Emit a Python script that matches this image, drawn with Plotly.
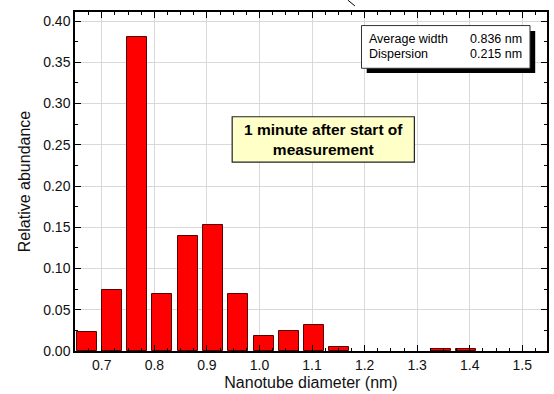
import plotly.graph_objects as go

# Data
diameters = [0.671, 0.719, 0.767, 0.815, 0.864, 0.912, 0.960, 1.008, 1.056, 1.104, 1.152, 1.345, 1.393]
abundance = [0.023, 0.074, 0.381, 0.069, 0.139, 0.153, 0.069, 0.018, 0.024, 0.032, 0.005, 0.002, 0.002]
x_ticks = [0.7, 0.8, 0.9, 1.0, 1.1, 1.2, 1.3, 1.4, 1.5]
y_ticks = [0.00, 0.05, 0.10, 0.15, 0.20, 0.25, 0.30, 0.35, 0.40]
stats_labels = ["Average width", "Dispersion"]
stats_values = ["0.836 nm", "0.215 nm"]
note_text = "1 minute after start of<br>measurement"

FONT = "Liberation Sans, Arial, sans-serif"

fig = go.Figure()
fig.add_trace(go.Bar(
    x=diameters, y=abundance, width=0.038,
    marker=dict(color="#FF0000", line=dict(color="#5a0000", width=1)),
    showlegend=False,
))

axis_common = dict(
    showline=True, linecolor="black", linewidth=1.5, mirror="ticks",
    ticks="inside", ticklen=6, tickwidth=1, tickcolor="black",
    showgrid=True, gridcolor="#d9d9d9", gridwidth=1, zeroline=False,
    tickfont=dict(family=FONT, size=14, color="#111111"),
    automargin=False,
)

fig.update_xaxes(
    **axis_common,
    range=[0.649, 1.547], tickvals=x_ticks, ticktext=[f"{v:.1f}" for v in x_ticks],
    minor=dict(dtick=0.025, tick0=0.7, ticks="inside", ticklen=3, tickcolor="black", showgrid=False),
    title=dict(text="Nanotube diameter (nm)", font=dict(family=FONT, size=16, color="#111111"), standoff=5),
)
fig.update_yaxes(
    **axis_common,
    range=[0, 0.411], tickvals=y_ticks, ticktext=[f"{v:.2f}" for v in y_ticks],
    minor=dict(dtick=0.025, tick0=0, ticks="inside", ticklen=3, tickcolor="black", showgrid=False),
    title=dict(text="Relative abundance", font=dict(family=FONT, size=16, color="#111111"), standoff=9),
)

shapes = [
    # info box shadow and box
    dict(type="rect", xref="paper", yref="paper", x0=0.618, x1=0.975, y0=0.820, y1=0.944,
         fillcolor="black", line=dict(width=0)),
    dict(type="rect", xref="paper", yref="paper", x0=0.607, x1=0.964, y0=0.834, y1=0.960,
         fillcolor="white", line=dict(color="#333333", width=1)),
    # yellow note box
    dict(type="rect", xref="paper", yref="paper", x0=0.333, x1=0.719, y0=0.557, y1=0.691,
         fillcolor="#FFFFC8", line=dict(color="#222222", width=1.2)),
    # small stray line at top
    dict(type="line", xref="paper", yref="paper", x0=0.578, y0=1.035, x1=0.593, y1=1.018,
         line=dict(color="black", width=1)),
]

annotations = [
    dict(xref="paper", yref="paper", x=0.526, y=0.624, text=note_text, showarrow=False,
         font=dict(family=FONT, size=15.5, color="black", weight="bold"), align="center",
         xanchor="center", yanchor="middle"),
]
for lab, val, yy in zip(stats_labels, stats_values, [0.920, 0.876]):
    annotations.append(dict(xref="paper", yref="paper", x=0.619, y=yy, text=lab, showarrow=False,
                            xanchor="left", yanchor="middle",
                            font=dict(family=FONT, size=12.5, color="black")))
    annotations.append(dict(xref="paper", yref="paper", x=0.951, y=yy, text=val, showarrow=False,
                            xanchor="right", yanchor="middle",
                            font=dict(family=FONT, size=12.5, color="black")))

fig.update_layout(
    width=554, height=394,
    margin=dict(l=75, r=7, t=12, b=43),
    paper_bgcolor="white", plot_bgcolor="white",
    bargap=0, shapes=shapes, annotations=annotations,
    font=dict(family=FONT, color="black"),
)

fig.write_html("out.html", config={"displayModeBar": False},
               post_script="document.body.style.margin='0px';document.body.style.overflow='hidden';")
